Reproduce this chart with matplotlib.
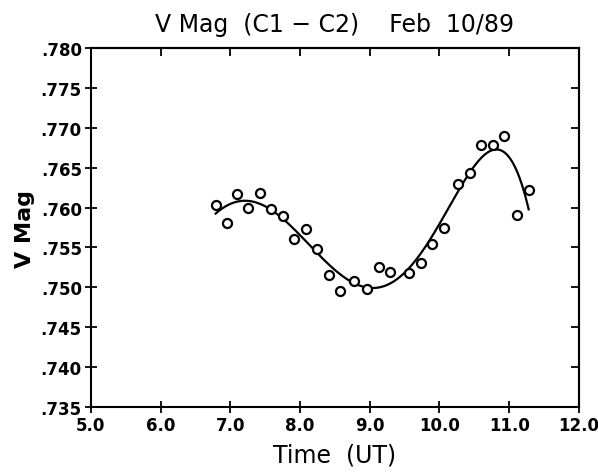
import numpy as np
import matplotlib
matplotlib.use('Agg')
import matplotlib.pyplot as plt
from matplotlib.ticker import FuncFormatter

time_ut = [6.79, 6.95, 7.10, 7.26, 7.43, 7.58, 7.75, 7.92, 8.09, 8.25,
           8.41, 8.58, 8.77, 8.96, 9.13, 9.29, 9.56, 9.73, 9.90, 10.07,
           10.26, 10.44, 10.60, 10.77, 10.93, 11.11, 11.28]
v_mag = [.7603, .7581, .7617, .7600, .7618, .7598, .7589, .7561, .7573, .7548,
         .7515, .7495, .7508, .7498, .7526, .7519, .7518, .7530, .7555, .7575,
         .7630, .7644, .7678, .7678, .7690, .7591, .7622]

# smooth fit through the points
coef = np.polyfit(time_ut, v_mag, 5)
tt = np.linspace(min(time_ut), max(time_ut), 300)
fit = np.polyval(coef, tt)

fig = plt.figure(figsize=(5.98, 4.77), dpi=100)
ax = fig.add_axes([0.152, 0.1447, 0.816, 0.7523])

ax.plot(tt, fit, color='black', lw=1.6)
ax.plot(time_ut, v_mag, 'o', mfc='white', mec='black', mew=1.6, ms=6.5)

ax.set_xlim(5.0, 12.0)
ax.set_ylim(.735, .780)
ax.set_xticks(np.arange(5.0, 12.01, 1.0))
ax.set_yticks(np.arange(.735, .7801, .005))
ax.xaxis.set_major_formatter(FuncFormatter(lambda v, p: '%.1f' % v))
ax.yaxis.set_major_formatter(FuncFormatter(lambda v, p: ('%.3f' % v)[1:]))

for s in ax.spines.values():
    s.set_linewidth(1.5)
ax.tick_params(axis='both', which='major', direction='inout', length=9, width=1.3,
               labelsize=12, pad=2)
for t in ax.get_xticklabels() + ax.get_yticklabels():
    t.set_fontweight('bold')

# inner ticks on top and right
sec_x = ax.secondary_xaxis('top')
sec_x.set_xticks(np.arange(5.0, 12.01, 1.0))
sec_x.tick_params(direction='in', length=6, width=1.3, labeltop=False)
sec_y = ax.secondary_yaxis('right')
sec_y.set_yticks(np.arange(.735, .7801, .005))
sec_y.tick_params(direction='in', length=6, width=1.3, labelright=False)
sec_x.spines['top'].set_linewidth(1.5)
sec_y.spines['right'].set_linewidth(1.5)

ax.set_title('V Mag  (C1 \u2212 C2)    Feb  10/89', fontsize=17, pad=12)
ax.set_xlabel('Time  (UT)', fontsize=17, labelpad=6)
ax.set_ylabel('V Mag', fontsize=16, fontweight='semibold', labelpad=4)

fig.savefig('out.png', dpi=100)
